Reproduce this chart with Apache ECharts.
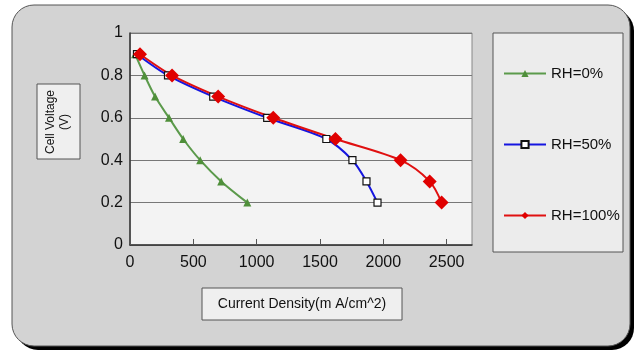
<!DOCTYPE html>
<html lang="en">
  <head>
    <meta charset="UTF-8" />
    <title>Cell Voltage vs Current Density</title>
    <script src="https://cdn.jsdelivr.net/npm/echarts@6.0.0/dist/echarts.min.js"></script>
    <style>
      html, body { margin: 0; padding: 0; background: #fff; }
    </style>
  </head>
  <body>
    <div id="main" style="width: 639px; height: 353px"></div>
    <script>
      // data: [current density, voltage]
      var seriesNames = ['RH=0%', 'RH=50%', 'RH=100%']
      var rh0 = [
        [40, 0.9], [115, 0.8], [198, 0.7], [308, 0.6],
        [420, 0.5], [554, 0.4], [720, 0.3], [926, 0.2]
      ]
      var rh50 = [
        [55, 0.9], [300, 0.8], [657, 0.7], [1083, 0.6],
        [1550, 0.5], [1756, 0.4], [1867, 0.3], [1954, 0.2]
      ]
      var rh100 = [
        [79, 0.9], [332, 0.8], [696, 0.7], [1131, 0.6],
        [1622, 0.5], [2136, 0.4], [2366, 0.3], [2460, 0.2]
      ]
      var xTicks = [0, 500, 1000, 1500, 2000, 2500]

      var font = 'Liberation Sans, Arial, sans-serif'
      var chart = echarts.init(document.getElementById('main'))

      // box with a black drop shadow (Excel style)
      function shadowBox(x, y, w, h, r, fill) {
        return [
          { type: 'rect', z: -10, shape: { x: x + 4, y: y + 4, width: w, height: h, r: r }, style: { fill: '#000' } },
          { type: 'rect', z: -9, shape: { x: x, y: y, width: w, height: h, r: r }, style: { fill: fill, stroke: '#555', lineWidth: 1 } }
        ]
      }

      var graphics = []
        .concat(shadowBox(12, 5, 618, 341, 22, '#d3d3d3'))
        .concat(shadowBox(493, 33, 130, 219, 0, '#ececec'))
        .concat(shadowBox(37, 84, 43, 75, 0, '#efefef'))
        .concat(shadowBox(202, 288, 200, 32, 0, '#efefef'))
      graphics.push({
        type: 'text', z: -8, x: 58, y: 122, rotation: Math.PI / 2,
        style: { text: 'Cell Voltage\n(V)', font: '12px ' + font, fill: '#111', align: 'center', verticalAlign: 'middle', lineHeight: 14 }
      })
      graphics.push({
        type: 'text', z: -8, x: 302, y: 304,
        style: { text: 'Current Density(m A/cm^2)', font: '14px ' + font, fill: '#111', align: 'center', verticalAlign: 'middle' }
      })

      var option = {
        animation: false,
        textStyle: { fontFamily: font },
        graphic: graphics,
        grid: {
          left: 130, top: 33, width: 342, height: 212,
          show: true, backgroundColor: '#f3f3f3', borderColor: '#888', borderWidth: 1
        },
        legend: {
          orient: 'vertical',
          left: 498, top: 61,
          itemWidth: 42, itemHeight: 9, itemGap: 56,
          textStyle: { fontSize: 15, color: '#111', fontFamily: font },
          data: seriesNames
        },
        xAxis: {
          type: 'value', min: 0, max: 2700, interval: 500,
          axisLine: { lineStyle: { color: '#333', width: 1.5 } },
          axisTick: { inside: true, length: 6, customValues: xTicks, lineStyle: { color: '#555' } },
          axisLabel: {
            customValues: xTicks, fontSize: 16, color: '#111', margin: 10,
            formatter: function (v) { return String(v) }
          },
          splitLine: { show: false }
        },
        yAxis: {
          type: 'value', min: 0, max: 1, interval: 0.2,
          axisLine: { show: true, lineStyle: { color: '#333', width: 1.5 } },
          axisTick: { show: false },
          axisLabel: { fontSize: 16, color: '#111', margin: 7 },
          splitLine: { lineStyle: { color: '#777', width: 1 } }
        },
        series: [
          {
            name: seriesNames[0], type: 'line', data: rh0, smooth: 0.3,
            symbol: 'triangle', symbolSize: 8,
            lineStyle: { color: '#5b9a4b', width: 2 },
            itemStyle: { color: '#4f8f3a' }
          },
          {
            name: seriesNames[1], type: 'line', data: rh50, smooth: 0.3,
            symbol: 'rect', symbolSize: 7,
            lineStyle: { color: '#1515e0', width: 2 },
            itemStyle: { color: '#fff', borderColor: '#111', borderWidth: 1.2 }
          },
          {
            name: seriesNames[2], type: 'line', data: rh100, smooth: 0.3,
            symbol: 'diamond', symbolSize: 14,
            lineStyle: { color: '#e01010', width: 2 },
            itemStyle: { color: '#e00000' }
          }
        ]
      }
      chart.setOption(option)
    </script>
  </body>
</html>
